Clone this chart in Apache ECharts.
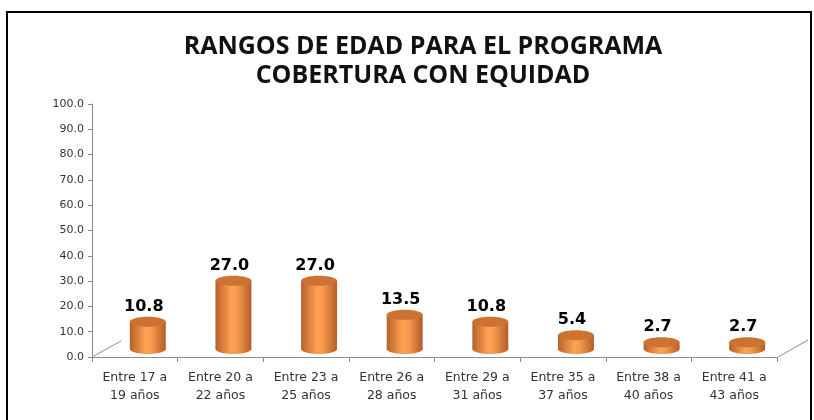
<!DOCTYPE html>
<html>
<head>
<meta charset="utf-8">
<script src="https://cdn.jsdelivr.net/npm/echarts@6/dist/echarts.min.js"></script>
<style>
  html, body { margin: 0; padding: 0; background: #fff; }
  #chart { width: 814px; height: 420px; }
</style>
</head>
<body>
<div id="chart"></div>
<script>
var categories = ['Entre 17 a\n19 años', 'Entre 20 a\n22 años', 'Entre 23 a\n25 años', 'Entre 26 a\n28 años',
                  'Entre 29 a\n31 años', 'Entre 35 a\n37 años', 'Entre 38 a\n40 años', 'Entre 41 a\n43 años'];
var values = [10.8, 27.0, 27.0, 13.5, 10.8, 5.4, 2.7, 2.7];

var dom = document.getElementById('chart');
var myChart = echarts.init(dom);

var bodyGradient = new echarts.graphic.LinearGradient(0, 0, 1, 0, [
    { offset: 0, color: '#b8602a' },
    { offset: 0.45, color: '#ffa253' },
    { offset: 0.6, color: '#f79a4c' },
    { offset: 1, color: '#b55d28' }
]);

function renderCylinder(params, api) {
    var idx = api.value(0);
    var val = api.value(1);
    var base = api.coord([idx, 0]);
    var top = api.coord([idx, val]);
    var w = api.size([1, 0])[0] * 0.42;
    var cx = base[0] + 13;
    var dy = -8;
    var ry = 5;
    var yb = base[1] + dy;
    var yt = top[1] + dy;
    return {
        type: 'group',
        children: [
            { type: 'ellipse', shape: { cx: cx, cy: yb, rx: w / 2, ry: ry }, style: { fill: bodyGradient } },
            { type: 'rect', shape: { x: cx - w / 2, y: yt, width: w, height: yb - yt }, style: { fill: bodyGradient } },
            { type: 'ellipse', shape: { cx: cx, cy: yt, rx: w / 2, ry: ry }, style: { fill: '#cc7232' } },
            { type: 'text', style: {
                x: cx - 4, y: yt - ry - 2, text: val.toFixed(1), textAlign: 'center', textVerticalAlign: 'bottom',
                fill: '#000', font: 'bold 16px "DejaVu Sans"'
            } }
        ]
    };
}

var option = {
    animation: false,
    backgroundColor: '#fff',
    title: {
        text: 'RANGOS DE EDAD PARA EL PROGRAMA\nCOBERTURA CON EQUIDAD',
        left: 418,
        top: 27,
        textAlign: 'center',
        textStyle: { fontFamily: 'Open Sans', fontWeight: 'bold', fontSize: 25, lineHeight: 29, color: '#111' }
    },
    grid: { left: 92, right: 37, top: 104, bottom: 63 },
    xAxis: {
        type: 'category',
        data: categories,
        axisLine: { lineStyle: { color: '#8c8c8c', width: 1 } },
        axisTick: { show: true, length: 5, lineStyle: { color: '#8c8c8c' } },
        axisLabel: { color: '#333', fontSize: 12.5, fontFamily: 'DejaVu Sans', lineHeight: 18, margin: 12 }
    },
    yAxis: {
        type: 'value',
        min: 0,
        max: 100,
        interval: 10,
        axisLine: { show: true, lineStyle: { color: '#8c8c8c' } },
        axisTick: { show: true, length: 4, lineStyle: { color: '#8c8c8c' } },
        splitLine: { show: false },
        axisLabel: {
            color: '#333', fontSize: 11, fontFamily: 'DejaVu Sans', margin: 8,
            formatter: function (v) { return v.toFixed(1); }
        }
    },
    series: [{
        type: 'custom',
        renderItem: renderCylinder,
        data: values.map(function (v, i) { return [i, v]; })
    }],
    graphic: [
        { type: 'rect', shape: { x: 7, y: 12, width: 804, height: 430 }, style: { fill: 'none', stroke: '#000', lineWidth: 2 } },
        { type: 'line', shape: { x1: 92, y1: 357, x2: 121, y2: 341 }, style: { stroke: '#8c8c8c', lineWidth: 1 } },
        { type: 'line', shape: { x1: 778, y1: 357, x2: 808, y2: 340 }, style: { stroke: '#8c8c8c', lineWidth: 1 } }
    ]
};

if (option && typeof option === 'object') {
    myChart.setOption(option);
}
</script>
</body>
</html>
